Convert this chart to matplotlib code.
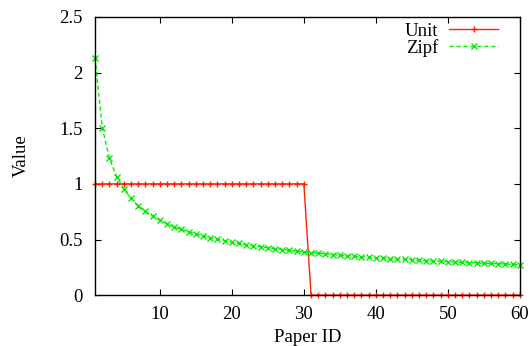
import numpy as np
import matplotlib
matplotlib.use("Agg")
import matplotlib.pyplot as plt

plt.rcParams['font.family'] = ['Liberation Serif', 'DejaVu Serif']

paper_ids = list(range(1, 61))
unit = [1.0] * 30 + [0.0] * 30
zipf = [2.13, 1.506, 1.230, 1.065, 0.953, 0.870, 0.805, 0.753, 0.710, 0.674,
        0.642, 0.615, 0.591, 0.569, 0.550, 0.533, 0.517, 0.502, 0.489, 0.476,
        0.465, 0.454, 0.444, 0.435, 0.426, 0.418, 0.410, 0.403, 0.396, 0.389,
        0.383, 0.377, 0.371, 0.365, 0.360, 0.355, 0.350, 0.346, 0.341, 0.337,
        0.333, 0.329, 0.325, 0.321, 0.318, 0.314, 0.311, 0.307, 0.304, 0.301,
        0.298, 0.295, 0.293, 0.290, 0.287, 0.285, 0.282, 0.280, 0.277, 0.275]

fig = plt.figure(figsize=(5.31, 3.46), dpi=100)
ax = fig.add_axes([0.179, 0.147, 0.800, 0.804])

ax.plot(paper_ids, unit, color='#ff2000', lw=1.0, marker='+', ms=5, mew=1.0,
        label='Unit', clip_on=False)
ax.plot(paper_ids, zipf, color='#00ee00', lw=1.0, ls=(0, (3, 2)), marker='x',
        ms=4, mew=1.0, label='Zipf', clip_on=False)

ax.set_xlim(1, 60)
ax.set_ylim(0, 2.5)
ax.set_xticks([10, 20, 30, 40, 50, 60])
ax.set_yticks([0, 0.5, 1, 1.5, 2, 2.5])
ax.set_yticklabels(['0', '0.5', '1', '1.5', '2', '2.5'])
ax.tick_params(direction='in', top=True, right=True, length=4, labelsize=13.5)
ax.tick_params(axis='y', pad=9)
ax.tick_params(axis='x', pad=8)
for s in ax.spines.values():
    s.set_linewidth(1.0)

ax.set_xlabel('Paper ID', fontsize=13.5, labelpad=4)
ax.set_ylabel('Value', fontsize=13.5, labelpad=21)

ax.legend(loc='upper right', bbox_to_anchor=(0.962, 1.0), markerfirst=False,
          frameon=False, fontsize=13.5, handlelength=2.6, borderaxespad=0.1,
          borderpad=0.2, labelspacing=-0.05, handletextpad=0.6)

fig.savefig('out.png', dpi=100)
